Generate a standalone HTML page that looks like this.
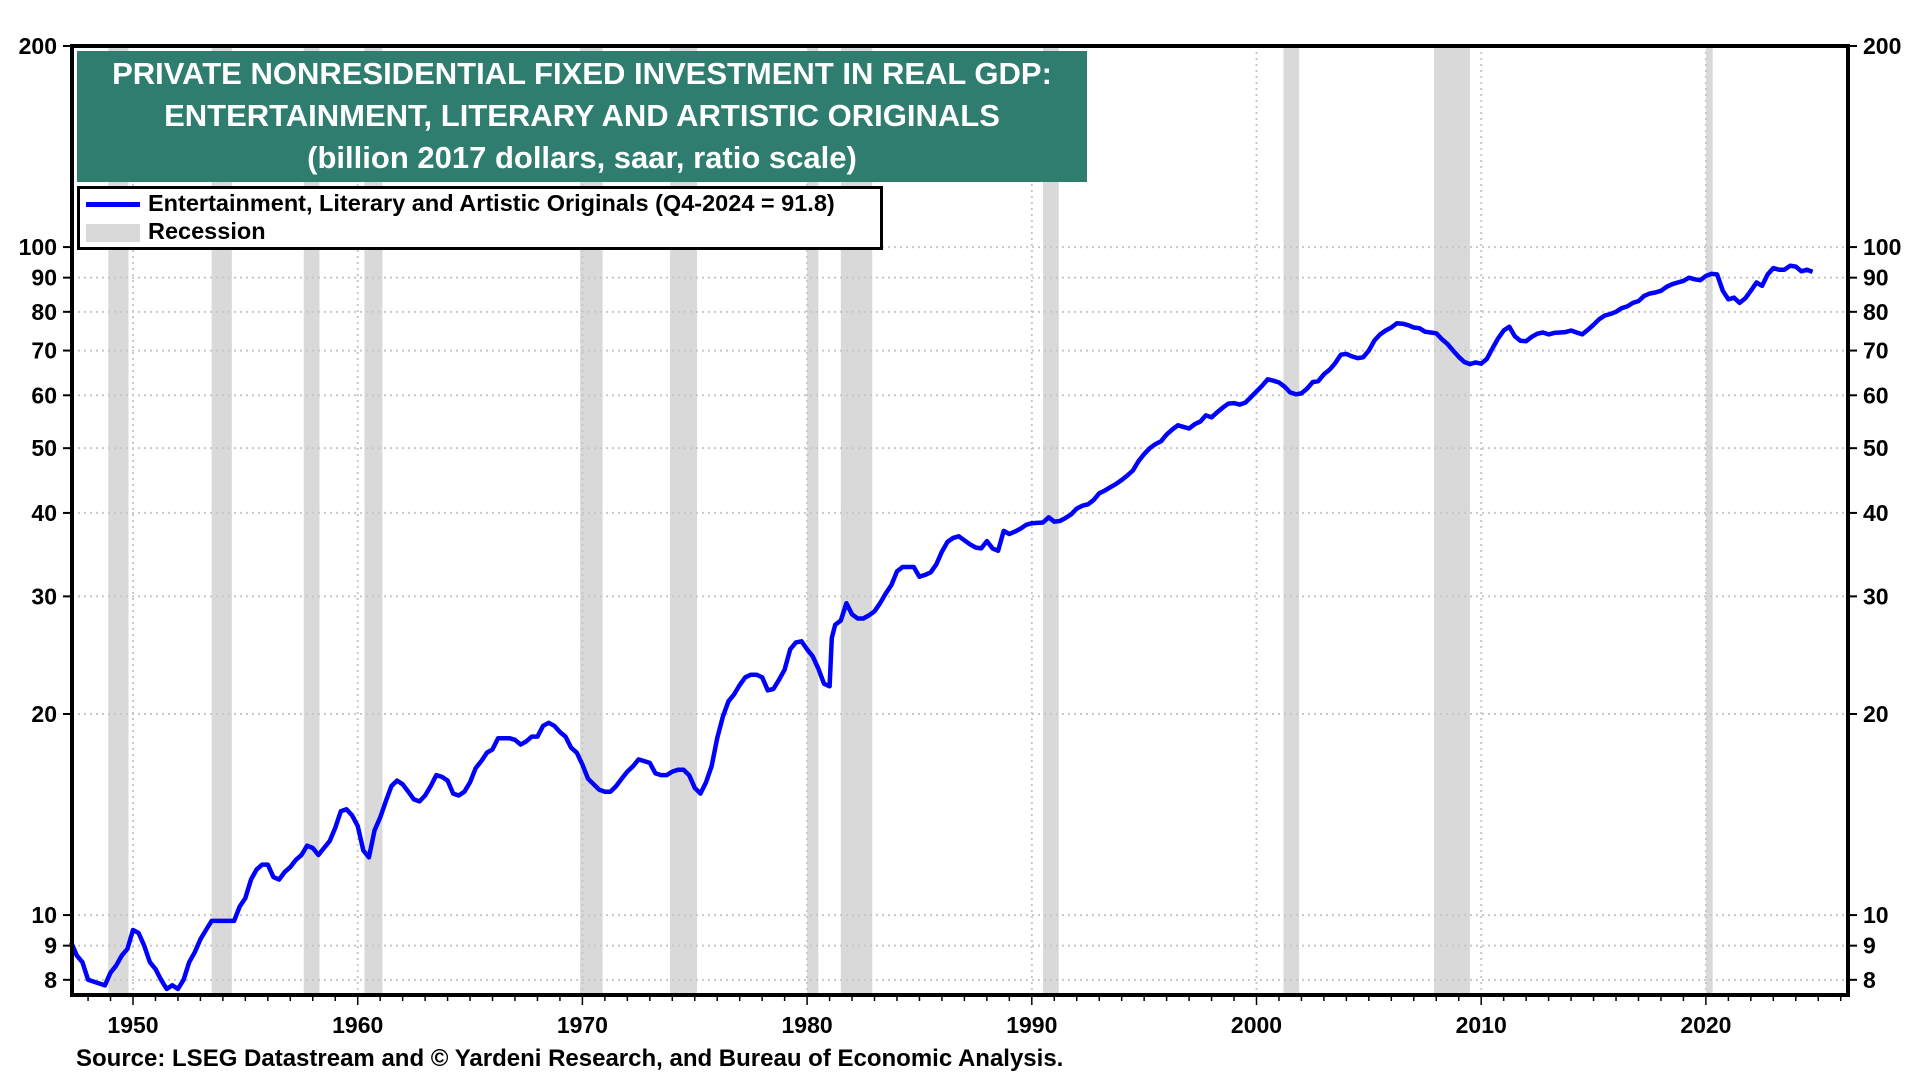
<!DOCTYPE html>
<html><head><meta charset="utf-8"><style>
html,body{margin:0;padding:0;background:#fff;}
svg{display:block;font-family:"Liberation Sans",Arial,sans-serif;}
</style></head><body>
<svg id="chart" width="1920" height="1080" viewBox="0 0 1920 1080" xmlns="http://www.w3.org/2000/svg"></svg>
<script>
const years=[1947.25,1947.5,1947.75,1948,1948.5,1948.75,1949,1949.25,1949.5,1949.75,1950,1950.25,1950.5,1950.75,1951,1951.25,1951.5,1951.75,1952,1952.25,1952.5,1952.75,1953,1953.25,1953.5,1954,1954.5,1954.75,1955,1955.25,1955.5,1955.75,1956,1956.25,1956.5,1956.75,1957,1957.25,1957.5,1957.75,1958,1958.25,1958.5,1958.75,1959,1959.25,1959.5,1959.75,1960,1960.25,1960.5,1960.75,1961,1961.25,1961.5,1961.75,1962,1962.25,1962.5,1962.75,1963,1963.25,1963.5,1963.75,1964,1964.25,1964.5,1964.75,1965,1965.25,1965.5,1965.75,1966,1966.25,1966.75,1967,1967.25,1967.5,1967.75,1968,1968.25,1968.5,1968.75,1969,1969.25,1969.5,1969.75,1970,1970.25,1970.5,1970.75,1971,1971.25,1971.5,1971.75,1972,1972.25,1972.5,1972.75,1973,1973.25,1973.5,1973.75,1974,1974.25,1974.5,1974.75,1975,1975.25,1975.5,1975.75,1976,1976.25,1976.5,1976.75,1977,1977.25,1977.5,1977.75,1978,1978.25,1978.5,1978.75,1979,1979.25,1979.5,1979.75,1980,1980.25,1980.5,1980.75,1981,1981.1,1981.25,1981.5,1981.75,1982,1982.25,1982.5,1982.75,1983,1983.25,1983.5,1983.75,1984,1984.25,1984.75,1985,1985.25,1985.5,1985.75,1986,1986.25,1986.5,1986.75,1987,1987.25,1987.5,1987.75,1988,1988.25,1988.5,1988.75,1989,1989.25,1989.5,1989.75,1990,1990.5,1990.75,1991,1991.25,1991.5,1991.75,1992,1992.25,1992.5,1992.75,1993,1993.25,1993.5,1993.75,1994,1994.25,1994.5,1994.75,1995,1995.25,1995.5,1995.75,1996,1996.25,1996.5,1996.75,1997,1997.25,1997.5,1997.75,1998,1998.25,1998.5,1998.75,1999,1999.25,1999.5,1999.75,2000,2000.25,2000.5,2000.75,2001,2001.25,2001.5,2001.75,2002,2002.25,2002.5,2002.75,2003,2003.25,2003.5,2003.75,2004,2004.25,2004.5,2004.75,2005,2005.25,2005.5,2005.75,2006,2006.25,2006.5,2006.75,2007,2007.25,2007.5,2007.75,2008,2008.25,2008.5,2008.75,2009,2009.25,2009.5,2009.75,2010,2010.25,2010.5,2010.75,2011,2011.25,2011.5,2011.75,2012,2012.25,2012.5,2012.75,2013,2013.25,2013.5,2013.75,2014,2014.25,2014.5,2014.75,2015,2015.25,2015.5,2015.75,2016,2016.25,2016.5,2016.75,2017,2017.25,2017.5,2017.75,2018,2018.25,2018.5,2018.75,2019,2019.25,2019.5,2019.75,2020,2020.25,2020.5,2020.75,2021,2021.25,2021.5,2021.75,2022,2022.25,2022.5,2022.75,2023,2023.25,2023.5,2023.75,2024,2024.25,2024.5,2024.75];
const values=[9.1,8.7,8.5,8.0,7.9,7.85,8.2,8.4,8.7,8.9,9.5,9.4,9.0,8.5,8.3,8.0,7.75,7.85,7.75,8.0,8.5,8.8,9.2,9.5,9.8,9.8,9.8,10.3,10.6,11.3,11.7,11.9,11.9,11.4,11.3,11.6,11.8,12.1,12.3,12.7,12.6,12.3,12.6,12.9,13.5,14.3,14.4,14.1,13.6,12.5,12.2,13.4,14.0,14.8,15.6,15.9,15.7,15.3,14.9,14.8,15.1,15.6,16.2,16.1,15.9,15.2,15.1,15.3,15.8,16.6,17.0,17.5,17.7,18.4,18.4,18.3,18.0,18.2,18.5,18.5,19.2,19.4,19.2,18.8,18.5,17.8,17.5,16.8,16.0,15.7,15.4,15.3,15.3,15.6,16.0,16.4,16.7,17.1,17.0,16.9,16.3,16.2,16.2,16.4,16.5,16.5,16.2,15.5,15.2,15.8,16.7,18.4,19.8,20.9,21.4,22.1,22.7,22.9,22.9,22.7,21.7,21.8,22.5,23.3,25.0,25.6,25.7,25.0,24.4,23.4,22.2,22.0,26.0,27.2,27.6,29.3,28.2,27.8,27.8,28.1,28.5,29.3,30.3,31.2,32.7,33.2,33.2,32.1,32.3,32.6,33.5,35.0,36.2,36.7,36.9,36.4,35.9,35.5,35.4,36.3,35.4,35.1,37.6,37.2,37.5,37.9,38.4,38.6,38.7,39.4,38.8,38.9,39.3,39.8,40.6,41.0,41.2,41.8,42.8,43.2,43.7,44.2,44.8,45.5,46.3,47.8,49.0,50.0,50.7,51.2,52.4,53.3,54.1,53.8,53.5,54.3,54.8,56.0,55.6,56.6,57.5,58.3,58.4,58.1,58.5,59.6,60.8,62.0,63.4,63.1,62.7,61.8,60.6,60.2,60.4,61.4,62.8,63.0,64.5,65.5,67.0,69.0,69.2,68.6,68.2,68.4,70.0,72.5,74.0,75.0,75.8,76.9,76.8,76.4,75.8,75.6,74.7,74.5,74.3,72.8,71.6,70.0,68.5,67.3,66.8,67.2,66.9,68.0,70.5,73.0,75.0,76.0,73.5,72.4,72.3,73.4,74.2,74.5,74.0,74.4,74.5,74.6,75.0,74.5,74.0,75.2,76.5,78.0,79.0,79.4,80.0,81.0,81.5,82.5,83.0,84.5,85.2,85.5,86.0,87.2,88.0,88.5,89.0,90.0,89.5,89.2,90.5,91.2,91.0,86.0,83.5,84.0,82.5,83.8,86.0,88.5,87.5,91.0,93.0,92.5,92.5,93.8,93.5,92.0,92.5,91.8];
const recStart=[1948.9,1953.5,1957.6,1960.3,1969.9,1973.9,1980.0,1981.5,1990.5,2001.2,2007.9,2020.0];
const recEnd=[1949.8,1954.4,1958.3,1961.1,1970.9,1975.1,1980.5,1982.9,1991.2,2001.9,2009.5,2020.3];
const yTicks=[8,9,10,20,30,40,50,60,70,80,90,100,200];
const xTicks=[1950,1960,1970,1980,1990,2000,2010,2020];

const NS="http://www.w3.org/2000/svg";
const svg=document.getElementById('chart');
const L=72,R=1848,T=46,B=995;
const X0=1950,XS=22.47;
function xs(t){return 133+(t-X0)*XS;}
function ys(v){return T+668*Math.log10(200/v);}
function mk(tag,attrs,parent){const e=document.createElementNS(NS,tag);for(const k in attrs)e.setAttribute(k,attrs[k]);(parent||svg).appendChild(e);return e;}

recStart.forEach((s,i)=>{
  const r=mk('rect',{x:xs(s),y:T,width:xs(recEnd[i])-xs(s),height:B-T,fill:'#d9d9d9'});
  
  
});
xTicks.forEach(t=>{
  const g=mk('line',{x1:xs(t),x2:xs(t),y1:T,y2:B,stroke:'#c8c8c8','stroke-width':2,'stroke-dasharray':'2,4'});
  
  
});
yTicks.forEach(v=>{
  const g=mk('line',{x1:L,x2:R,y1:ys(v),y2:ys(v),stroke:'#c8c8c8','stroke-width':2,'stroke-dasharray':'2,4'});
  
  
});
let d='';
years.forEach((t,i)=>{d+=(i?'L':'M')+xs(t).toFixed(1)+','+ys(values[i]).toFixed(1);});
const p=mk('path',{d:d,fill:'none',stroke:'#0000ff','stroke-width':4.5,'stroke-linejoin':'round'});


const fr=mk('rect',{x:L,y:T,width:R-L,height:B-T,fill:'none',stroke:'#000','stroke-width':4});


yTicks.forEach(v=>{
  const y=ys(v);
  mk('line',{x1:L-9,x2:L,y1:y,y2:y,stroke:'#000','stroke-width':2});
  mk('line',{x1:R,x2:R+9,y1:y,y2:y,stroke:'#000','stroke-width':2});
  const a=mk('text',{x:L-15,y:y+8,'text-anchor':'end','font-size':23,'font-weight':'bold'});
  a.textContent=v;
  
  
  const b=mk('text',{x:R+15,y:y+8,'text-anchor':'start','font-size':23,'font-weight':'bold'});
  b.textContent=v;
  
  
});
for(let yr=1948;yr<=2026;yr++){
  const x=xs(yr);
  mk('line',{x1:x,x2:x,y1:B,y2:B+(yr%10===0?10:6),stroke:'#000','stroke-width':1.5});
}
xTicks.forEach(t=>{
  const a=mk('text',{x:xs(t),y:B+38,'text-anchor':'middle','font-size':23,'font-weight':'bold'});
  a.textContent=t;
  
  
});
</script>
<div style="position:absolute;left:77px;top:51px;width:1010px;height:131px;background:#2e7d6f;color:#fff;font-family:'Liberation Sans',Arial,sans-serif;font-weight:bold;font-size:31px;text-align:center;line-height:42px;padding-top:2px;box-sizing:border-box;white-space:nowrap;">
<div>PRIVATE NONRESIDENTIAL FIXED INVESTMENT IN REAL GDP:</div>
<div>ENTERTAINMENT, LITERARY AND ARTISTIC ORIGINALS</div>
<div>(billion 2017 dollars, saar, ratio scale)</div>
</div>
<div style="position:absolute;left:77px;top:186px;width:806px;height:64px;background:#fff;border:3px solid #000;box-sizing:border-box;font-family:'Liberation Sans',Arial,sans-serif;font-weight:bold;font-size:23.5px;">
<div style="position:absolute;left:6px;top:1px;white-space:nowrap;"><span style="display:inline-block;width:54px;height:5px;background:#0000ff;vertical-align:middle;margin-right:8px;"></span>Entertainment, Literary and Artistic Originals (Q4-2024 = 91.8)</div>
<div style="position:absolute;left:6px;top:29px;white-space:nowrap;"><span style="display:inline-block;width:54px;height:18px;background:#d9d9d9;vertical-align:middle;margin-right:8px;"></span>Recession</div>
</div>
<div style="position:absolute;left:76px;top:1045px;font-family:'Liberation Sans',Arial,sans-serif;font-weight:bold;font-size:24px;white-space:nowrap;">Source: LSEG Datastream and © Yardeni Research, and Bureau of Economic Analysis.</div>
</body></html>
